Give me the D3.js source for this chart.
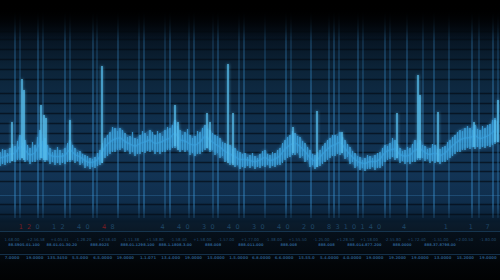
<!DOCTYPE html>
<html><head><meta charset="utf-8">
<script src="https://cdn.jsdelivr.net/npm/d3@7"></script>
<style>html,body{margin:0;padding:0;background:#000;overflow:hidden}svg{display:block}</style>
</head><body>
<svg id="chart" width="500" height="280"></svg>
<script>
// ---------- DATA ----------
// waveform band, one sample every 5 time units (time 0..495)
const bandTop = [63,65,67,69,80,75,67,70,85,77,67,65,65,67,75,67,64,60,57,58,
  65,77,83,87,87,82,79,77,80,82,85,80,82,85,87,95,85,83,80,79,
  83,90,85,80,77,72,70,67,63,62,60,59,61,65,60,62,67,75,80,82,
  78,72,65,60,65,72,77,80,83,75,68,62,58,57,59,60,63,70,72,75,
  67,65,67,75,75,69,67,70,66,69,75,80,85,87,87,90,85,87,91,97];
// in-between samples (time 2.5, 7.5, ...)
const bandTopB = [66,62,71,74,72,70,73,78,74,70,63,68,62,72,70,63,61,59,56,62,
  72,80,88,84,85,78,83,76,84,79,83,84,79,88,90,89,80,86,77,84,
  87,86,82,79,73,71,66,64,61,58,62,57,64,61,63,65,72,78,84,79,
  74,68,61,63,69,75,80,79,78,71,64,59,55,60,57,62,67,69,77,71,
  64,68,71,72,70,66,71,66,68,73,78,83,84,89,85,86,89,90,95,94];
const bandBottom = [51,52,54,55,57,55,53,55,57,55,53,52,52,53,55,54,52,49,48,49,
  52,59,63,65,67,65,63,61,63,64,65,63,63,65,67,69,65,65,62,61,
  63,67,65,62,59,55,52,50,48,49,49,48,49,50,49,50,52,57,60,62,
  59,55,50,48,51,55,59,61,62,58,53,49,47,46,48,47,49,55,58,57,
  54,53,53,55,57,56,54,54,53,55,59,63,65,67,68,68,68,69,70,73];
// tall spikes: time and peak value
const spikeTime = [12,22,24,41,44,46,70,102,175,178,207,210,228,233,293,317,342,397,418,420,438,474,495,498];
const spikePeak = [93,136,125,110,100,97,95,149,110,93,102,93,151,102,88,104,83,102,140,120,103,93,95,115];
// grid
const gridTimes = [15,20,38,43,65,70,93,97,118,139,144,165,170,189,194,213,218,239,244,265,286,291,311,329,334,339,358,363,385,390,407,423,434,449,472,479,493,498];
const gridLevels = [184,176,166,156,146,136,122,112,102,92,82,72,63,53,44,34,11,1];
const markerLevel = [20];
// footer texts
const footerDigits = ["","","1","2","0","","1","2","","4","0","","4","8","","","","","","4","","4","0","","3","0","","4","0","","3","0","","4","0","","2","0","","8","3","1","0","1","4","0","","","4","","","","","1","","","1","","7",""];
const footerRed = [2,3,12];
const changeLabels = ["1.68.00","+2.56.58","+4.05.41","-1.28.20","+2.58.40","-1.11.38","+1.58.80","-1.58.40","+1.58.00","-1.57.00","+1.77.00","-1.38.00","+1.55.50","-1.25.00","+1.28.50","+1.18.00","-2.55.80","+1.72.40","-1.51.00","+2.00.50","-1.80.00"];
const volumeLabels = ["88.5905.01.100","88.01.01.30.20","888.8025","888.01.1298.100","888.1.1808.3.00","888.008","888.011.000","888.008","888.008","888.014.877.200","888.0000","888.37.8798.00"];
const priceLabels = ["7.0000","19.0000","135.3450","5.5.000","6.5.0000","19.0000","1.1.071","13.4.000","19.0000","15.0000","1.5.0000","6.8.0000","6.6.0000","15.55.0","5.4.0000","4.0.0000","19.0000","19.2000","19.0000","13.0000","15.2000","19.0000"];

// ---------- SCALES ----------
const W = 500, H = 280;
const sampleTimes = d3.range(bandTop.length).map(i => i * 5);
const x = d3.scaleLinear().domain([0, 500]).range([0, W]);
const y = d3.scaleLinear().domain([0, 200]).range([215, 15]);

const svg = d3.select("#chart");
const defs = svg.append("defs");

const bg = defs.append("linearGradient").attr("id","bg").attr("x1",0).attr("x2",0).attr("y1",0).attr("y2",1);
[[0,"#000000"],[0.04,"#010306"],[0.12,"#06121f"],[0.25,"#0c2439"],[0.45,"#10304e"],[0.62,"#123455"],[0.72,"#0f2d4b"],[0.77,"#0b2239"],[0.79,"#081a2b"],[0.80,"#0a1b2b"],[0.825,"#0a1826"],[0.83,"#06101a"],[0.9,"#040b12"],[0.94,"#020508"],[1,"#010203"]]
  .forEach(([o,c]) => bg.append("stop").attr("offset",o).attr("stop-color",c));

const vfade = defs.append("linearGradient").attr("id","vfade").attr("gradientUnits","userSpaceOnUse")
  .attr("x1",0).attr("x2",0).attr("y1",10).attr("y2",220);
[[0,0],[0.15,0.6],[0.5,1],[0.93,1],[1,0.3]].forEach(([o,a]) =>
  vfade.append("stop").attr("offset",o).attr("stop-color","#3a95d6").attr("stop-opacity",a));

const glow = defs.append("filter").attr("id","glow").attr("x","-20%").attr("y","-50%").attr("width","140%").attr("height","200%");
glow.append("feGaussianBlur").attr("stdDeviation",1.6).attr("result","b");
const fm = glow.append("feMerge");
fm.append("feMergeNode").attr("in","b");
fm.append("feMergeNode").attr("in","SourceGraphic");

const soft = defs.append("filter").attr("id","soft").attr("x","-50%").attr("y","-50%").attr("width","200%").attr("height","200%");
soft.append("feGaussianBlur").attr("stdDeviation",0.6);

// background
svg.append("rect").attr("width",W).attr("height",H).attr("fill","url(#bg)");

// horizontal grid (dark lines)
svg.append("g").selectAll("line").data(gridLevels).join("line")
  .attr("x1",0).attr("x2",W).attr("y1",d=>Math.round(y(d))+0.5).attr("y2",d=>Math.round(y(d))+0.5)
  .attr("stroke","#040c16").attr("stroke-opacity",0.7).attr("stroke-width",1.3);
svg.append("g").selectAll("line").data(markerLevel).join("line")
  .attr("x1",0).attr("x2",W).attr("y1",d=>Math.round(y(d))+0.5).attr("y2",d=>Math.round(y(d))+0.5)
  .attr("stroke","#1d4a72").attr("stroke-width",1.2);

// vertical grid (light lines)
svg.append("g").attr("filter","url(#soft)").selectAll("line").data(gridTimes).join("line")
  .attr("x1",d=>x(d)).attr("x2",d=>x(d)).attr("y1",y(203)).attr("y2",y(-3))
  .attr("stroke","url(#vfade)").attr("stroke-opacity",(d,i)=> i%2 ? 0.4 : 0.55).attr("stroke-width",1.4);

// waveform
const wave = svg.append("g").attr("filter","url(#glow)");
const area = d3.area().x((d,i)=>x(sampleTimes[i])).y0((d,i)=>y(bandBottom[i])).y1(d=>y(d)).curve(d3.curveMonotoneX);
wave.append("path").datum(bandTop).attr("d",area).attr("fill","#2a85c4").attr("fill-opacity",0.3);
wave.append("g").selectAll("line").data(bandTop).join("line")
  .attr("x1",(d,i)=>x(sampleTimes[i])).attr("x2",(d,i)=>x(sampleTimes[i]))
  .attr("y1",(d,i)=>y(bandBottom[i]-2)).attr("y2",d=>y(d))
  .attr("stroke","#45aee6").attr("stroke-width",1.3).attr("stroke-opacity",0.9);
wave.append("g").selectAll("line").data(bandTopB).join("line")
  .attr("x1",(d,i)=>x(sampleTimes[i]+2.5)).attr("x2",(d,i)=>x(sampleTimes[i]+2.5))
  .attr("y1",(d,i)=>y(bandBottom[i])).attr("y2",d=>y(d))
  .attr("stroke","#3a9fda").attr("stroke-width",1.2).attr("stroke-opacity",0.85);
const mid = d3.line().x((d,i)=>x(sampleTimes[i])).y((d,i)=>y((d + bandBottom[i]) / 2)).curve(d3.curveMonotoneX);
wave.append("path").datum(bandTop).attr("d",mid).attr("fill","none").attr("stroke","#3aa0dc").attr("stroke-width",1.5).attr("stroke-opacity",0.6);

// spikes
wave.append("g").selectAll("line").data(spikeTime).join("line")
  .attr("x1",d=>x(d)).attr("x2",d=>x(d))
  .attr("y1",d=>y(bandBottom[Math.min(bandBottom.length-1, Math.round(d/5))]))
  .attr("y2",(d,i)=>y(spikePeak[i]))
  .attr("stroke","#58c2f2").attr("stroke-width",1.3);

// top darkness
const topFade = defs.append("linearGradient").attr("id","topFade").attr("x1",0).attr("x2",0).attr("y1",0).attr("y2",1);
[[0,1],[0.25,0.95],[1,0]].forEach(([o,a]) => topFade.append("stop").attr("offset",o).attr("stop-color","#000").attr("stop-opacity",a));
svg.append("rect").attr("width",W).attr("height",40).attr("fill","url(#topFade)");

// footer
svg.append("line").attr("x1",0).attr("x2",W).attr("y1",231.5).attr("y2",231.5).attr("stroke","#16354f").attr("stroke-width",1);
svg.append("line").attr("x1",0).attr("x2",W).attr("y1",254.5).attr("y2",254.5).attr("stroke","#143049").attr("stroke-width",1);

const font = "DejaVu Sans, sans-serif";
const slot = d3.scaleBand().domain(d3.range(footerDigits.length)).range([0, W]);
svg.append("g").selectAll("text").data(footerDigits).join("text")
  .attr("x",(d,i)=>slot(i)+slot.bandwidth()/2).attr("y",229)
  .attr("text-anchor","middle").attr("font-family",font).attr("font-size",6.5)
  .attr("fill",(d,i)=> footerRed.includes(i) ? "#7a1c22" : "#1f4767").text(d=>d);

const px2 = d3.scalePoint().domain(d3.range(changeLabels.length)).range([12, 488]);
svg.append("g").selectAll("text").data(changeLabels).join("text")
  .attr("x",(d,i)=>px2(i)).attr("y",240.5).attr("text-anchor","middle")
  .attr("font-family",font).attr("font-size",3.9).attr("fill","#234d70").text(d=>d);

const px3 = d3.scalePoint().domain(d3.range(volumeLabels.length)).range([24, 440]);
svg.append("g").selectAll("text").data(volumeLabels).join("text")
  .attr("x",(d,i)=>px3(i)).attr("y",246).attr("text-anchor","middle")
  .attr("font-family",font).attr("font-size",3.6).attr("font-weight","bold").attr("fill","#2a5b88").text(d=>d);

const px4 = d3.scalePoint().domain(d3.range(priceLabels.length)).range([12, 488]);
svg.append("g").selectAll("text").data(priceLabels).join("text")
  .attr("x",(d,i)=>px4(i)).attr("y",259).attr("text-anchor","middle")
  .attr("font-family",font).attr("font-size",3.8).attr("font-weight","bold").attr("fill","#26537c").text(d=>d);
</script>
</body></html>
